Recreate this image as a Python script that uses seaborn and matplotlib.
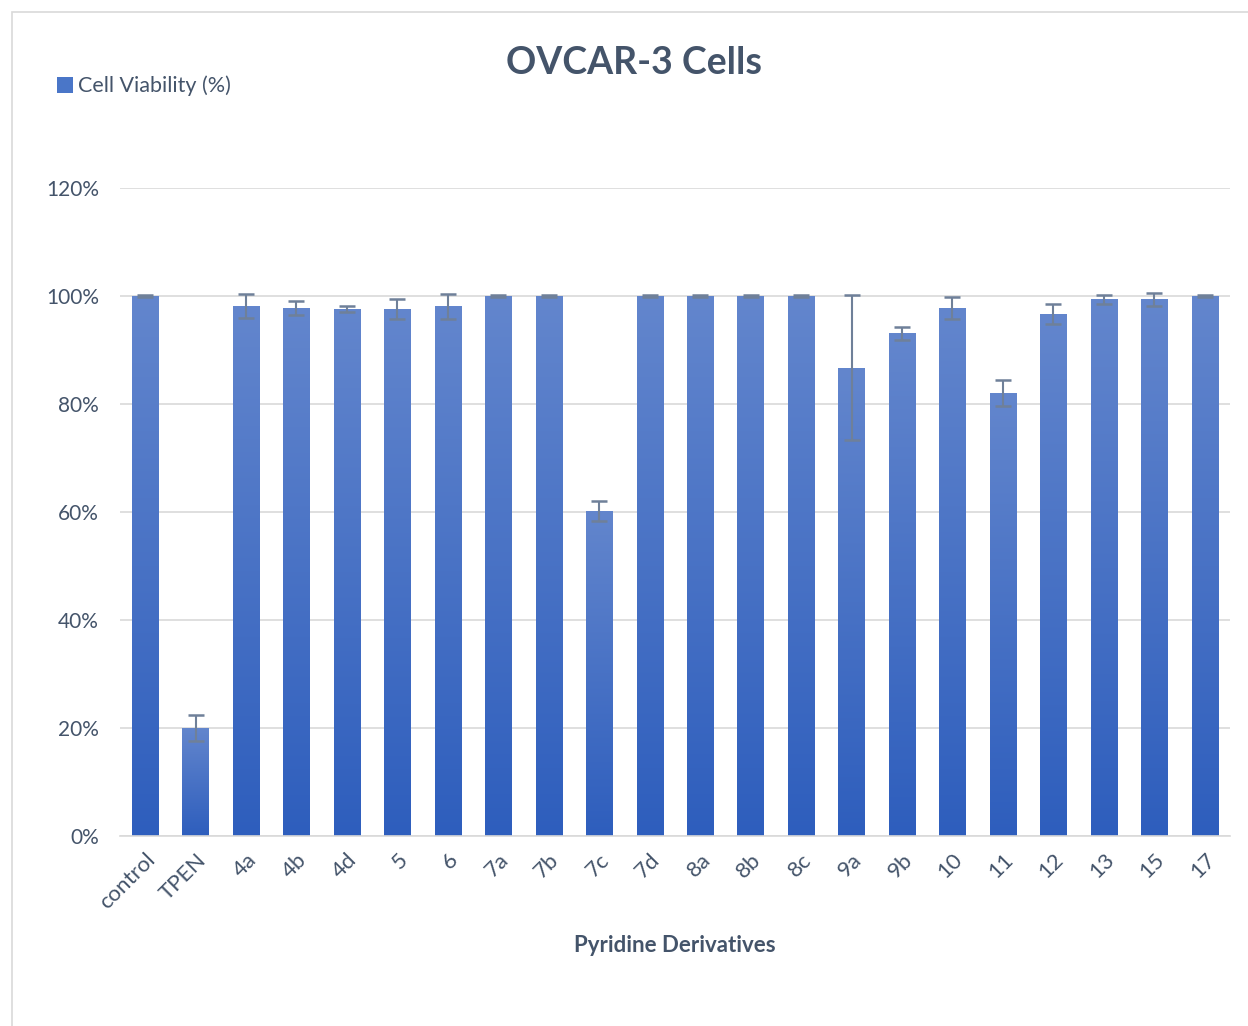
import numpy as np
import pandas as pd
import matplotlib
matplotlib.use("Agg")
import matplotlib.pyplot as plt
import seaborn as sns
from matplotlib.colors import LinearSegmentedColormap
from matplotlib.patches import Patch, Rectangle
from matplotlib.ticker import PercentFormatter

# --- data ---
compounds = ["control", "TPEN", "4a", "4b", "4d", "5", "6", "7a", "7b", "7c", "7d",
             "8a", "8b", "8c", "9a", "9b", "10", "11", "12", "13", "15", "17"]
viability = [100, 20.0, 98.1, 97.8, 97.6, 97.6, 98.1, 100, 100, 60.2, 100,
             100, 100, 100, 86.7, 93.1, 97.8, 82.0, 96.7, 99.4, 99.4, 100]
error = [0.1, 2.4, 2.2, 1.3, 0.5, 1.9, 2.3, 0.1, 0.1, 1.8, 0.1,
         0.1, 0.1, 0.1, 13.4, 1.2, 2.0, 2.4, 1.9, 0.8, 1.2, 0.1]

df = pd.DataFrame({"compound": compounds, "viability": viability, "err": error})

sns.set_style("white")
plt.rcParams["font.family"] = ["Lato", "DejaVu Sans"]
text_col = "#44546A"

fig = plt.figure(figsize=(12.48, 10.26), dpi=100)
ax = fig.add_axes([0.096, 0.1852, 0.8896, 0.6316])

sns.barplot(data=df, x="compound", y="viability", color="#4472C4",
            width=0.52, errorbar=None, ax=ax, zorder=2)

# vertical gradient on every bar (light at top, darker at bottom)
cmap = LinearSegmentedColormap.from_list("bar", ["#2E5EBD", "#6386CD"])
grad = np.linspace(0, 1, 256).reshape(-1, 1)
for p in ax.patches:
    x0, y0 = p.get_x(), p.get_y()
    w, h = p.get_width(), p.get_height()
    im = ax.imshow(grad, extent=[x0, x0 + w, y0, y0 + h], origin="lower",
                   aspect="auto", cmap=cmap, zorder=2)
    im.set_clip_path(p)
    p.set_facecolor("none")
    p.set_edgecolor("none")

xs = [p.get_x() + p.get_width() / 2 for p in ax.patches]
ax.errorbar(xs, df["viability"], yerr=df["err"], fmt="none", ecolor="#6F8099",
            elinewidth=1.5, capsize=6, capthick=1.8, zorder=3)

ax.set_xlim(-0.5, len(compounds) - 0.5)
ax.set_ylim(0, 120)
ax.set_yticks(range(0, 121, 20))
ax.yaxis.set_major_formatter(PercentFormatter(decimals=0))
ax.yaxis.grid(True, color="#D9D9D9", linewidth=1.2, zorder=0)
ax.set_axisbelow(True)
for s in ["top", "right", "left"]:
    ax.spines[s].set_visible(False)
ax.spines["bottom"].set_color("#D9D9D9")
ax.spines["bottom"].set_linewidth(1.2)

ax.tick_params(axis="x", length=0, labelsize=16, labelcolor=text_col, pad=10)
ax.tick_params(axis="y", length=0, labelsize=15, labelcolor=text_col, pad=15)
plt.setp(ax.get_xticklabels(), rotation=45, ha="right", rotation_mode="anchor")

ax.set_ylabel("")
ax.set_xlabel("Pyridine Derivatives", fontsize=16, fontweight="bold",
              color=text_col, labelpad=16)

fig.text(0.508, 0.939, "OVCAR-3 Cells", fontsize=27, fontweight="bold",
         color=text_col, ha="center", va="center")

fig.legend(handles=[Patch(facecolor="#4A76C8", edgecolor="none", label="Cell Viability (%)")],
           loc="center left", bbox_to_anchor=(0.03, 0.916), frameon=False,
           fontsize=15.5, labelcolor=text_col, handlelength=0.75, handleheight=0.75,
           handletextpad=0.25)

# outer light border of the chart area
fig.patches.append(Rectangle((12 / 1248, -0.01), 1.0, 1 - 12 / 1026 + 0.01,
                             transform=fig.transFigure, fill=False,
                             edgecolor="#D9D9D9", linewidth=1.2))

fig.savefig("out.png", dpi=100)
